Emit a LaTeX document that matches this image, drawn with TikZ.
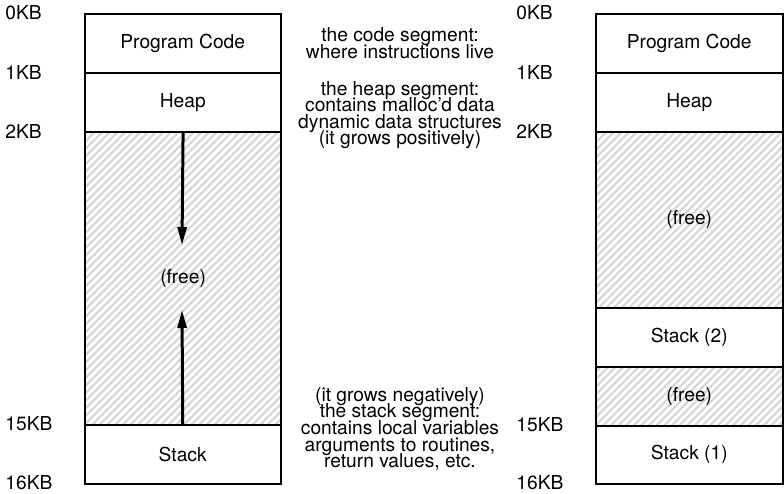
\documentclass[tikz,border=0pt]{standalone}
\usepackage{fontspec}
\setmainfont{TeX Gyre Heros}
\usetikzlibrary{patterns.meta,arrows.meta}

\begin{document}
\begin{tikzpicture}[x=0.5pt,y=-0.5pt,
  seg/.style={draw, line width=0.75pt, minimum width=98pt, anchor=north west, inner sep=0pt, font=\fontsize{9.6}{11}\selectfont},
  rseg/.style={seg, minimum width=93.5pt},
  hatch/.style={pattern={Lines[angle=45,distance=2.7pt,line width=1.1pt]}, pattern color=gray!32},
  addr/.style={anchor=west, inner sep=0pt, font=\fontsize{9.6}{11}\selectfont},
  note/.style={align=center, inner sep=0pt, font={\fontsize{9.6}{8.3}\selectfont\lineskiplimit=-10pt\relax}},
  growarrow/.style={-{Triangle[length=9pt,width=4.5pt]}, line width=1.5pt}]
  \useasboundingbox (0,0) rectangle (784,494);

  %coordinates
  \coordinate (CodeL)   at (84,13);
  \coordinate (HeapL)   at (84,72);
  \coordinate (FreeL)   at (84,131);
  \coordinate (StackL)  at (84,424);
  \coordinate (HeapEnd)  at (182,245);
  \coordinate (StackEnd) at (182,310);
  \coordinate (CodeR)   at (595,13);
  \coordinate (HeapR)   at (595,72);
  \coordinate (FreeR1)  at (595,131);
  \coordinate (StackR2) at (595,307);
  \coordinate (FreeR2)  at (595,366);
  \coordinate (StackR1) at (595,425);

  %left address space
  \node[seg, minimum height=29.5pt] (A) at (CodeL) {Program Code};
  \node[seg, minimum height=29.5pt] (B) at (HeapL) {Heap};
  \node[seg, hatch, minimum height=146.5pt] (C) at (FreeL) {(free)};
  \node[seg, minimum height=29.5pt] (D) at (StackL) {Stack};

  \draw[growarrow] (C.north) -- (HeapEnd);
  \draw[growarrow] (D.north) -- (StackEnd);

  %right address space
  \node[rseg, minimum height=29.5pt] (E) at (CodeR) {Program Code};
  \node[rseg, minimum height=29.5pt] (F) at (HeapR) {Heap};
  \node[rseg, hatch, minimum height=88pt] (G) at (FreeR1) {(free)};
  \node[rseg, minimum height=29.5pt] (H) at (StackR2) {Stack (2)};
  \node[rseg, hatch, minimum height=29.5pt] (I) at (FreeR2) {(free)};
  \node[rseg, minimum height=29pt] (J) at (StackR1) {Stack (1)};

  %addresses
  \node[addr] (a0)  at (5,13)  {0KB};
  \node[addr] (a1)  at (5,72)  {1KB};
  \node[addr] (a2)  at (5,131) {2KB};
  \node[addr] (a15) at (5,424) {15KB};
  \node[addr] (a16) at (5,483) {16KB};
  \node[addr] (b0)  at (516,13)  {0KB};
  \node[addr] (b1)  at (516,72)  {1KB};
  \node[addr] (b2)  at (516,131) {2KB};
  \node[addr] (b15) at (516,425) {15KB};
  \node[addr] (b16) at (516,483) {16KB};

  %notes
  \node[note] (nCode)  at (400,43)  {the code segment:\\where instructions live};
  \node[note] (nHeap)  at (400,115) {the heap segment:\\contains malloc'd data\\dynamic data structures\\(it grows positively)};
  \node[note] (nStack) at (400,429) {(it grows negatively)\\the stack segment:\\contains local variables\\arguments to routines,\\return values, etc.};

\end{tikzpicture}
\end{document}
